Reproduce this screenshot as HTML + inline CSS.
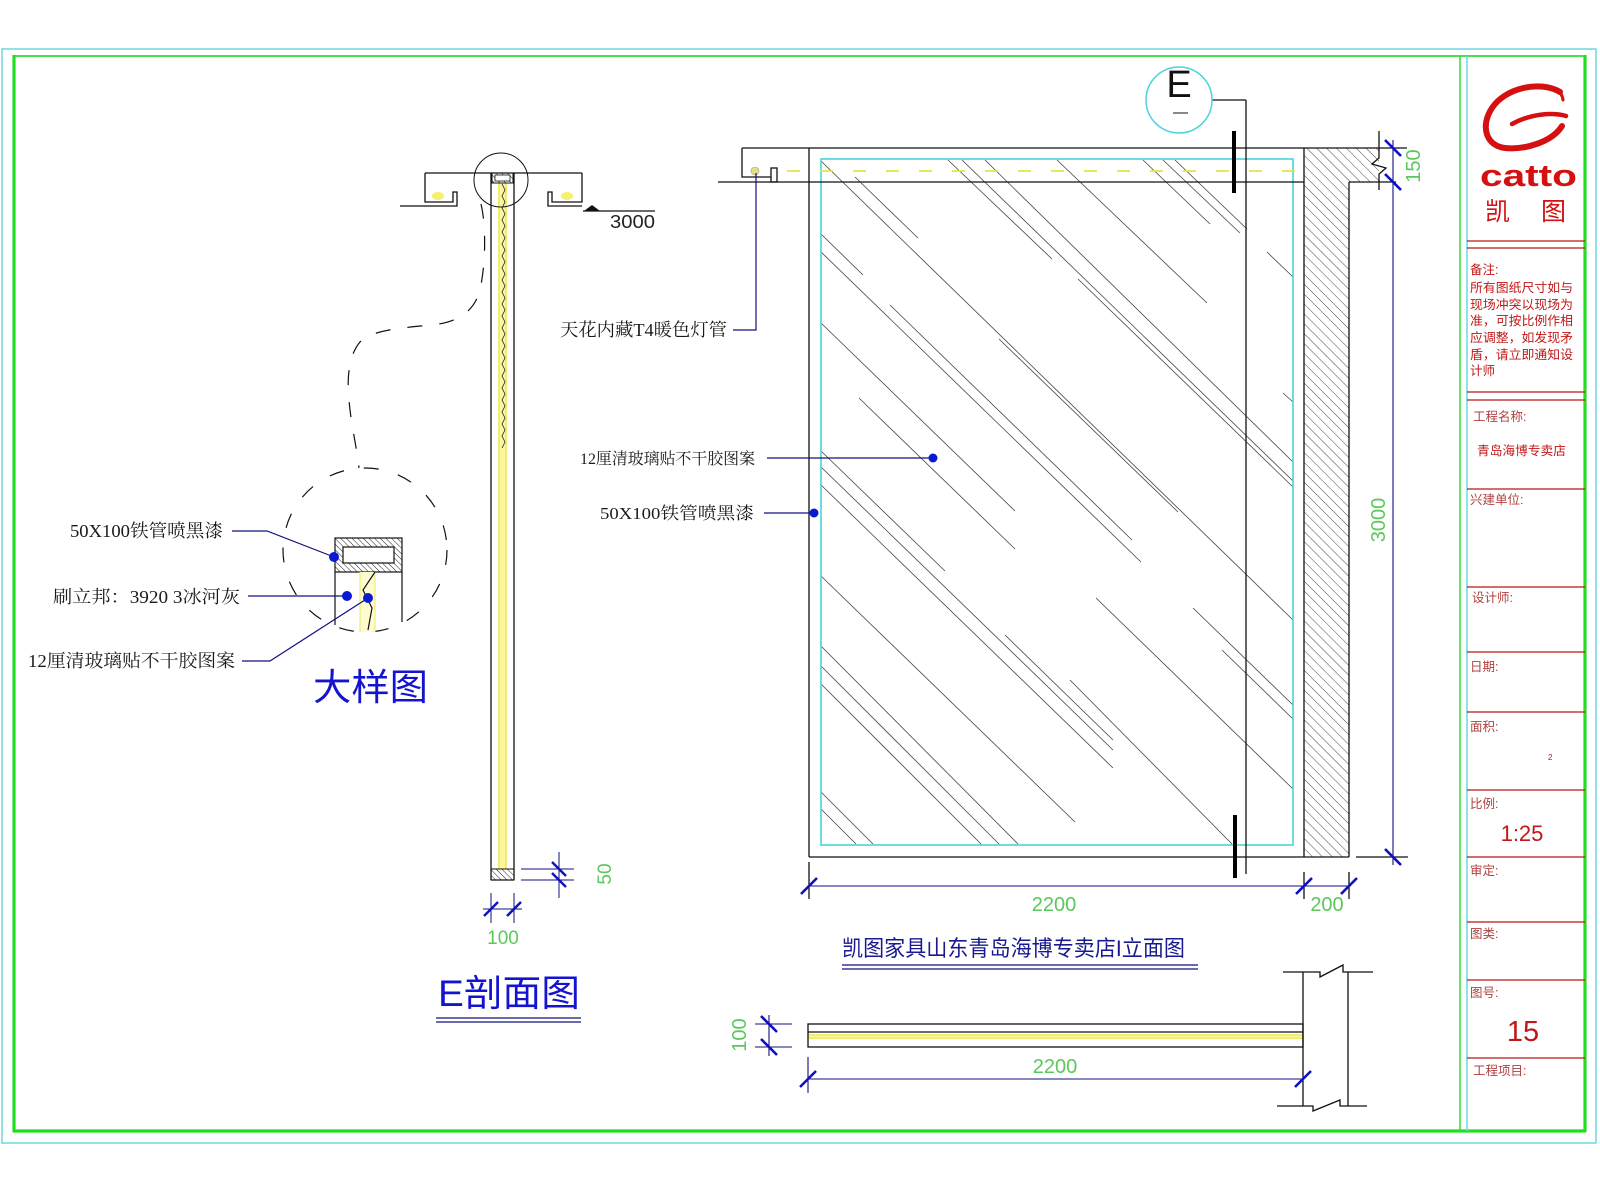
<!DOCTYPE html>
<html><head><meta charset="utf-8"><style>
html,body{margin:0;padding:0;background:#fff;}
svg{display:block;}
.lb{font-family:"Liberation Serif","Noto Serif CJK SC",serif;fill:#1a1a1a;}
.dt{font-family:"Liberation Sans",sans-serif;fill:#5cc85c;}
.tb{font-family:"Liberation Sans","Noto Sans CJK SC",sans-serif;fill:#c01818;}
</style></head><body>
<svg width="1600" height="1200" viewBox="0 0 1600 1200" xmlns="http://www.w3.org/2000/svg">
<defs>
<pattern id="hw" width="7" height="7" patternUnits="userSpaceOnUse" patternTransform="rotate(-45)"><line x1="0" y1="0" x2="0" y2="7" stroke="#333" stroke-width="0.9"/></pattern>
<pattern id="hs" width="4" height="4" patternUnits="userSpaceOnUse" patternTransform="rotate(-45)"><line x1="0" y1="0" x2="0" y2="4" stroke="#222" stroke-width="1"/></pattern>
</defs>
<rect width="1600" height="1200" fill="#fff"/>

<!-- frames -->
<rect x="2" y="49" width="1594" height="1094" fill="none" stroke="#6ad8e0" stroke-width="1.5"/>
<line x1="14" y1="56" x2="1585" y2="56" stroke="#33dd33" stroke-width="1.8"/>
<line x1="14" y1="55" x2="14" y2="1132" stroke="#22dd22" stroke-width="3.2"/>
<line x1="1585" y1="55" x2="1585" y2="1132" stroke="#22dd22" stroke-width="3.2"/>
<line x1="13" y1="1131" x2="1586" y2="1131" stroke="#22dd22" stroke-width="3.2"/>
<line x1="1460" y1="56" x2="1460" y2="1131" stroke="#33dd33" stroke-width="1.5"/>
<line x1="1467" y1="56" x2="1467" y2="1131" stroke="#6ad8e0" stroke-width="1.5"/>

<!-- title block -->
<g stroke="#b81818" stroke-width="1.3">
<line x1="1467" y1="241" x2="1585" y2="241"/><line x1="1467" y1="248" x2="1585" y2="248"/>
<line x1="1467" y1="392" x2="1585" y2="392"/><line x1="1467" y1="400" x2="1585" y2="400"/>
<line x1="1467" y1="489" x2="1585" y2="489"/><line x1="1467" y1="587" x2="1585" y2="587"/>
<line x1="1467" y1="652" x2="1585" y2="652"/><line x1="1467" y1="712" x2="1585" y2="712"/>
<line x1="1467" y1="790" x2="1585" y2="790"/><line x1="1467" y1="857" x2="1585" y2="857"/>
<line x1="1467" y1="922" x2="1585" y2="922"/><line x1="1467" y1="980" x2="1585" y2="980"/>
<line x1="1467" y1="1058" x2="1585" y2="1058"/>
</g>
<!-- logo -->
<g fill="none" stroke="#d41010" stroke-linecap="round">
<path d="M1560,92 C1540,80 1505,88 1492,108 C1480,126 1486,146 1505,148 C1525,150 1552,142 1562,126" stroke-width="6"/>
<path d="M1512,124 C1530,114 1552,112 1566,116" stroke-width="4.5"/>
<path d="M1540,88 C1552,86 1562,90 1563,100" stroke-width="3"/>
</g>
<text x="1480" y="186" class="tb" style="font-weight:bold;font-size:31px;fill:#d41010" textLength="97" lengthAdjust="spacingAndGlyphs">catto</text>
<text x="1485" y="220" class="tb" style="font-size:25px;fill:#d41010">凯</text>
<text x="1541" y="220" class="tb" style="font-size:25px;fill:#d41010">图</text>
<g class="tb" style="font-size:12.5px">
<text x="1470" y="274">备注:</text>
<text x="1470" y="292" textLength="103" lengthAdjust="spacingAndGlyphs">所有图纸尺寸如与</text>
<text x="1470" y="309" textLength="103" lengthAdjust="spacingAndGlyphs">现场冲突以现场为</text>
<text x="1470" y="325" textLength="103" lengthAdjust="spacingAndGlyphs">准，可按比例作相</text>
<text x="1470" y="342" textLength="103" lengthAdjust="spacingAndGlyphs">应调整，如发现矛</text>
<text x="1470" y="359" textLength="103" lengthAdjust="spacingAndGlyphs">盾，请立即通知设</text>
<text x="1470" y="375">计师</text>
<text x="1473" y="421" style="fill:#b04040">工程名称:</text>
<text x="1477" y="455" textLength="89" lengthAdjust="spacingAndGlyphs">青岛海博专卖店</text>
<text x="1470" y="504" style="fill:#b04040">兴建单位:</text>
<text x="1472" y="602" style="fill:#b04040">设计师:</text>
<text x="1470" y="671" style="fill:#b04040">日期:</text>
<text x="1470" y="731" style="fill:#b04040">面积:</text>
<text x="1470" y="808" style="fill:#b04040">比例:</text>
<text x="1470" y="875" style="fill:#b04040">审定:</text>
<text x="1470" y="938" style="fill:#b04040">图类:</text>
<text x="1470" y="997" style="fill:#b04040">图号:</text>
<text x="1473" y="1075" style="fill:#b04040">工程项目:</text>
</g>
<text x="1548" y="760" class="tb" style="font-size:8px">2</text>
<text x="1522" y="841" class="tb" style="font-size:22px" text-anchor="middle">1:25</text>
<text x="1523" y="1041" class="tb" style="font-size:29px" text-anchor="middle">15</text>

<!-- ============ E section (left) ============ -->
<g stroke="#111" stroke-width="1.3" fill="none">
<line x1="425" y1="173" x2="582" y2="173"/>
<polyline points="425,173 425,202 453,202 453,192 457,192 457,206 400,206"/>
<polyline points="582,173 582,202 552,202 552,192 548,192 548,206 582,206"/>
<line x1="583" y1="211" x2="655" y2="211"/>
<line x1="491" y1="173" x2="491" y2="880"/>
<line x1="514" y1="173" x2="514" y2="880"/>
<line x1="491" y1="880" x2="514" y2="880"/>
</g>
<polygon points="584,211 600,211 592,205" fill="#111"/>
<text x="610" y="228" style="font-family:'Liberation Sans',sans-serif;font-size:18px;fill:#222" textLength="45" lengthAdjust="spacingAndGlyphs">3000</text>
<!-- lamps -->
<ellipse cx="438" cy="196" rx="6" ry="4" fill="#f4f070"/>
<ellipse cx="567" cy="196" rx="6" ry="4" fill="#f4f070"/>
<!-- yellow strip -->
<rect x="498" y="183" width="9" height="686" fill="#fbf7a0"/>
<line x1="499" y1="183" x2="499" y2="869" stroke="#e8e040" stroke-width="1"/>
<line x1="506" y1="183" x2="506" y2="869" stroke="#e8e040" stroke-width="1"/>
<path d="M502,184 l3,6 l-3,6 l3,6 l-3,6 l3,6 l-3,6 l3,6 l-3,6 l3,6 l-3,6 l3,6 l-3,6 l3,6 l-3,6 l3,6 l-3,6 l3,6 l-3,6 l3,6 l-3,6 l3,6 l-3,6 l3,6 l-3,6 l3,6 l-3,6 l3,6 l-3,6 l3,6 l-3,6 l3,6 l-3,6 l3,6 l-3,6 l3,6 l-3,6 l3,6 l-3,6 l3,6 l-3,6 l3,6 l-3,6 l3,6 l-3,6" fill="none" stroke="#222" stroke-width="0.8"/>
<!-- top tube -->
<rect x="492" y="173" width="21" height="10" fill="url(#hs)" stroke="#111" stroke-width="1"/>
<rect x="495" y="175" width="15" height="6" fill="#fff" stroke="#111" stroke-width="0.8"/>
<!-- bottom hatch -->
<rect x="491" y="869" width="23" height="11" fill="url(#hs)" stroke="#111" stroke-width="1"/>
<!-- small circle -->
<circle cx="501" cy="180" r="27" fill="none" stroke="#111" stroke-width="1"/>
<!-- dashed connector -->
<path d="M481,204 C486,225 486,262 480,290 C474,312 458,322 432,325 C400,328 372,330 360,342 C348,356 347,380 349,400 C351,425 357,448 359,468" fill="none" stroke="#111" stroke-width="1.2" stroke-dasharray="15 17"/>
<circle cx="365" cy="550" r="82" fill="none" stroke="#111" stroke-width="1.2" stroke-dasharray="15 20"/>
<!-- detail -->
<rect x="335" y="538" width="67" height="34" fill="url(#hs)" stroke="#111" stroke-width="1.2"/>
<rect x="343" y="547" width="51" height="16" fill="#fff" stroke="#111" stroke-width="1.2"/>
<rect x="360" y="572" width="15" height="60" fill="#fdfbd0"/>
<line x1="360" y1="572" x2="360" y2="632" stroke="#f0e860" stroke-width="1"/>
<line x1="375" y1="572" x2="375" y2="632" stroke="#f0e860" stroke-width="1"/>
<g stroke="#111" stroke-width="1.2" fill="none">
<line x1="335" y1="572" x2="335" y2="625"/>
<line x1="402" y1="572" x2="402" y2="622"/>
<polyline points="375,572 363,590 372,608 368,630"/>
</g>
<!-- detail leaders -->
<g stroke="#101080" stroke-width="1.2" fill="none">
<polyline points="232,531 267,531 334,557"/>
<line x1="248" y1="596" x2="347" y2="596"/>
<polyline points="242,661 270,661 368,598"/>
</g>
<g fill="#0a1ad0"><circle cx="334" cy="557" r="5"/><circle cx="347" cy="596" r="5"/><circle cx="368" cy="598" r="5"/></g>
<text x="70" y="537" class="lb" style="font-size:18px" textLength="153" lengthAdjust="spacingAndGlyphs">50X100铁管喷黑漆</text>
<text x="53" y="603" class="lb" style="font-size:18px" textLength="187" lengthAdjust="spacingAndGlyphs">刷立邦：3920 3冰河灰</text>
<text x="28" y="667" class="lb" style="font-size:18px" textLength="207" lengthAdjust="spacingAndGlyphs">12厘清玻璃贴不干胶图案</text>
<text x="313" y="700" style="font-family:'Liberation Sans','Noto Sans CJK SC',sans-serif;font-size:37px;fill:#1414d0" textLength="115" lengthAdjust="spacingAndGlyphs">大样图</text>

<!-- section dims -->
<g stroke="#101080" stroke-width="1">
<line x1="521" y1="869" x2="574" y2="869"/><line x1="521" y1="880" x2="574" y2="880"/>
<line x1="559" y1="852" x2="559" y2="898"/>
<line x1="491" y1="893" x2="491" y2="923"/><line x1="514" y1="893" x2="514" y2="923"/>
<line x1="483" y1="909" x2="522" y2="909"/>
</g>
<g stroke="#1010c0" stroke-width="2.4">
<line x1="552" y1="862" x2="566" y2="876"/><line x1="552" y1="873" x2="566" y2="887"/>
<line x1="484" y1="916" x2="498" y2="902"/><line x1="507" y1="916" x2="521" y2="902"/>
</g>
<text x="503" y="944" class="dt" style="font-size:19px" text-anchor="middle">100</text>
<text transform="translate(611,874) rotate(-90)" class="dt" style="font-size:19px" text-anchor="middle">50</text>
<text x="438" y="1006" style="font-family:'Liberation Sans','Noto Sans CJK SC',sans-serif;font-size:37px;fill:#1414d0" textLength="142" lengthAdjust="spacingAndGlyphs">E剖面图</text>
<line x1="436" y1="1018" x2="581" y2="1018" stroke="#101080" stroke-width="1.3"/>
<line x1="436" y1="1022" x2="581" y2="1022" stroke="#101080" stroke-width="1.3"/>

<!-- ============ Elevation ============ -->
<!-- wall hatch -->
<path d="M1304,148 L1379,148 L1379,182 L1349,182 L1349,857 L1304,857 Z" fill="url(#hw)"/>
<!-- glass lines -->
<g stroke="#444" stroke-width="0.8">
<line x1="821" y1="161" x2="1293" y2="620"/>
<line x1="855" y1="177" x2="918" y2="238"/>
<line x1="948" y1="160" x2="1052" y2="259"/>
<line x1="962" y1="160" x2="1293" y2="481"/>
<line x1="985" y1="160" x2="1293" y2="462"/>
<line x1="1078" y1="279" x2="1293" y2="487"/>
<line x1="1057" y1="160" x2="1207" y2="303"/>
<line x1="1143" y1="160" x2="1210" y2="224"/>
<line x1="1163" y1="160" x2="1240" y2="233"/>
<line x1="1175" y1="160" x2="1247" y2="229"/>
<line x1="1267" y1="252" x2="1293" y2="277"/>
<line x1="1283" y1="393" x2="1293" y2="402"/>
<line x1="821" y1="234" x2="863" y2="275"/>
<line x1="821" y1="252" x2="1141" y2="562"/>
<line x1="890" y1="305" x2="1132" y2="540"/>
<line x1="821" y1="323" x2="1015" y2="511"/>
<line x1="859" y1="398" x2="1015" y2="549"/>
<line x1="999" y1="339" x2="1178" y2="512"/>
<line x1="821" y1="451" x2="945" y2="571"/>
<line x1="821" y1="467" x2="1113" y2="750"/>
<line x1="821" y1="485" x2="1113" y2="768"/>
<line x1="821" y1="576" x2="1075" y2="822"/>
<line x1="1005" y1="635" x2="1113" y2="740"/>
<line x1="1096" y1="598" x2="1293" y2="789"/>
<line x1="1193" y1="608" x2="1293" y2="705"/>
<line x1="1222" y1="650" x2="1293" y2="719"/>
<line x1="821" y1="646" x2="1018" y2="844"/>
<line x1="821" y1="666" x2="999" y2="844"/>
<line x1="821" y1="684" x2="981" y2="844"/>
<line x1="821" y1="792" x2="873" y2="844"/>
<line x1="821" y1="809" x2="856" y2="844"/>
<line x1="1070" y1="680" x2="1232" y2="844"/>
</g>
<!-- cyan glass outline -->
<rect x="821" y="159" width="472" height="686" fill="none" stroke="#4ad4dc" stroke-width="1.6"/>
<!-- yellow dashed light -->
<line x1="787" y1="171" x2="1304" y2="171" stroke="#e4e24a" stroke-width="1.8" stroke-dasharray="13 20"/>
<!-- frame lines -->
<g stroke="#111" stroke-width="1.3" fill="none">
<line x1="742" y1="148" x2="1407" y2="148"/>
<line x1="718" y1="182" x2="1304" y2="182"/>
<polyline points="742,148 742,177 771,177"/>
<rect x="771" y="168" width="6" height="14"/>
<line x1="809" y1="148" x2="809" y2="857"/>
<line x1="1304" y1="148" x2="1304" y2="857"/>
<line x1="1349" y1="182" x2="1349" y2="857"/>
<line x1="1349" y1="182" x2="1396" y2="182"/>
<line x1="809" y1="857" x2="1349" y2="857"/>
<line x1="1356" y1="857" x2="1408" y2="857"/>
<polyline points="1379,131 1379,158 1372,164 1386,168 1379,174 1379,190"/>
<line x1="1246" y1="100" x2="1246" y2="874"/>
<line x1="1212" y1="100" x2="1246" y2="100"/>
<line x1="1304" y1="872" x2="1304" y2="899"/>
<line x1="1349" y1="872" x2="1349" y2="899"/>
<line x1="809" y1="862" x2="809" y2="899"/>
</g>
<ellipse cx="755" cy="171" rx="4" ry="4" fill="#e8e080" stroke="#999" stroke-width="0.6"/>
<!-- section marks -->
<rect x="1232" y="131" width="4" height="62" fill="#000"/>
<rect x="1233" y="815" width="4" height="63" fill="#000"/>
<!-- E bubble -->
<circle cx="1179" cy="100" r="33" fill="#fff" stroke="#4ad4dc" stroke-width="1.5"/>
<text x="1179" y="97" style="font-family:'Liberation Sans',sans-serif;font-size:38px;fill:#111" text-anchor="middle">E</text>
<line x1="1173" y1="113" x2="1188" y2="113" stroke="#111" stroke-width="1"/>
<!-- elevation leaders -->
<g stroke="#101080" stroke-width="1.2" fill="none">
<polyline points="756,173 756,330 733,330"/>
<line x1="767" y1="458" x2="933" y2="458"/>
<line x1="764" y1="513" x2="814" y2="513"/>
</g>
<g fill="#0a1ad0"><circle cx="933" cy="458" r="4.5"/><circle cx="814" cy="513" r="4.5"/></g>
<text x="560" y="336" class="lb" style="font-size:18px" textLength="167" lengthAdjust="spacingAndGlyphs">天花内藏T4暖色灯管</text>
<text x="580" y="464" class="lb" style="font-size:16px" textLength="175" lengthAdjust="spacingAndGlyphs">12厘清玻璃贴不干胶图案</text>
<text x="600" y="519" class="lb" style="font-size:17px" textLength="154" lengthAdjust="spacingAndGlyphs">50X100铁管喷黑漆</text>
<!-- elevation dims -->
<g stroke="#101080" stroke-width="1.1">
<line x1="1393" y1="140" x2="1393" y2="865"/>
<line x1="809" y1="886" x2="1349" y2="886"/>
</g>
<g stroke="#1010c0" stroke-width="2.6">
<line x1="1385" y1="140" x2="1401" y2="156"/>
<line x1="1385" y1="174" x2="1401" y2="190"/>
<line x1="1385" y1="849" x2="1401" y2="865"/>
<line x1="801" y1="894" x2="817" y2="878"/>
<line x1="1296" y1="894" x2="1312" y2="878"/>
<line x1="1341" y1="894" x2="1357" y2="878"/>
</g>
<text x="1054" y="911" class="dt" style="font-size:20px" text-anchor="middle">2200</text>
<text x="1327" y="911" class="dt" style="font-size:20px" text-anchor="middle">200</text>
<text transform="translate(1420,166) rotate(-90)" class="dt" style="font-size:20px" text-anchor="middle">150</text>
<text transform="translate(1385,520) rotate(-90)" class="dt" style="font-size:20px" text-anchor="middle">3000</text>
<!-- title -->
<text x="842" y="956" style="font-family:'Liberation Sans','Noto Sans CJK SC',sans-serif;font-size:22px;fill:#1a1a90" textLength="343" lengthAdjust="spacingAndGlyphs">凯图家具山东青岛海博专卖店I立面图</text>
<line x1="842" y1="965" x2="1198" y2="965" stroke="#101080" stroke-width="1.2"/>
<line x1="842" y1="969" x2="1198" y2="969" stroke="#101080" stroke-width="1.2"/>

<!-- ============ plan ============ -->
<rect x="808" y="1034" width="495" height="5" fill="#fbf7a0"/>
<line x1="808" y1="1035" x2="1303" y2="1035" stroke="#e8e040" stroke-width="1"/>
<line x1="808" y1="1038" x2="1303" y2="1038" stroke="#e8e040" stroke-width="1"/>
<g stroke="#111" stroke-width="1.3" fill="none">
<rect x="808" y="1024" width="495" height="23"/>
<line x1="808" y1="1032" x2="1303" y2="1032"/>
<line x1="1303" y1="972" x2="1303" y2="1106"/>
<line x1="1348" y1="972" x2="1348" y2="1106"/>
<polyline points="1283,972 1320,972 1320,977 1343,965 1343,972 1373,972"/>
<polyline points="1277,1106 1313,1106 1313,1111 1340,1100 1340,1106 1367,1106"/>
</g>
<g stroke="#101080" stroke-width="1.1">
<line x1="755" y1="1024" x2="792" y2="1024"/><line x1="755" y1="1047" x2="792" y2="1047"/>
<line x1="769" y1="1015" x2="769" y2="1056"/>
<line x1="808" y1="1057" x2="808" y2="1093"/>
<line x1="808" y1="1079" x2="1303" y2="1079"/>
</g>
<g stroke="#1010c0" stroke-width="2.6">
<line x1="761" y1="1016" x2="777" y2="1032"/>
<line x1="761" y1="1039" x2="777" y2="1055"/>
<line x1="800" y1="1087" x2="816" y2="1071"/>
<line x1="1295" y1="1087" x2="1311" y2="1071"/>
</g>
<text x="1055" y="1073" class="dt" style="font-size:20px" text-anchor="middle">2200</text>
<text transform="translate(746,1035) rotate(-90)" class="dt" style="font-size:20px" text-anchor="middle">100</text>
</svg>
</body></html>
